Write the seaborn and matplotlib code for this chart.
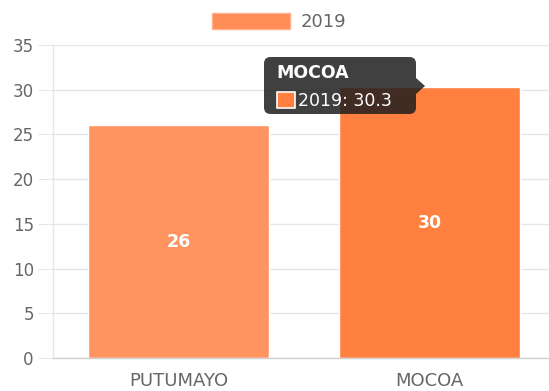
import matplotlib
matplotlib.use("Agg")
import matplotlib.pyplot as plt
from matplotlib.patches import Patch, FancyBboxPatch, Rectangle, Polygon
import seaborn as sns
import pandas as pd

# Data
regions = ["PUTUMAYO", "MOCOA"]
values_2019 = [26.0, 30.3]
series_name = "2019"
y_ticks = [0, 5, 10, 15, 20, 25, 30, 35]

bar_colors = ["#FF9461", "#FF803F"]
legend_color = "#FF8C55"
text_gray = "#666666"
grid_gray = "#E6E6E6"

sns.set_theme(style="white")
plt.rcParams["font.family"] = ["DejaVu Sans"]

W, H = 549, 391
fig = plt.figure(figsize=(W / 100, H / 100), dpi=100)
fig.patch.set_facecolor("white")

# plot area in pixel terms: x 53..555, y 45..358 (top-down)
ax = fig.add_axes([53 / W, (H - 358) / H, 502 / W, 313 / H])
ax.set_facecolor("white")

df = pd.DataFrame({"region": regions, "value": values_2019})
sns.barplot(data=df, x="region", y="value", hue="region", palette=bar_colors,
            width=0.72, legend=False, ax=ax, saturation=1)

ax.set_xlim(-0.5, 1.5)
ax.set_ylim(0, 35)
ax.set_yticks(y_ticks)
ax.set_xlabel("")
ax.set_ylabel("")

ax.yaxis.grid(True, color=grid_gray, linewidth=1)
ax.xaxis.grid(False)
ax.set_axisbelow(True)

for side in ["top", "right"]:
    ax.spines[side].set_visible(False)
ax.spines["left"].set_color(grid_gray)
ax.spines["left"].set_linewidth(1)
ax.spines["bottom"].set_color("#CFCFCF")
ax.spines["bottom"].set_linewidth(1)

ax.tick_params(axis="y", length=10.8, width=0.75, color=grid_gray, pad=3,
               labelsize=12, labelcolor=text_gray, left=True)
ax.tick_params(axis="x", length=0, pad=10, labelsize=13, labelcolor=text_gray)

# value labels in the middle of each bar
for i, v in enumerate(values_2019):
    ax.text(i, v / 2, f"{v:.0f}", ha="center", va="center", color="white",
            fontsize=12.5, fontweight="bold")

# legend
handle = Patch(facecolor=legend_color, edgecolor="#FFB08A", linewidth=1)
fig.legend([handle], [series_name], loc="center",
           bbox_to_anchor=(279 / W, 1 - 22 / H), frameon=False,
           fontsize=13, labelcolor=text_gray, handlelength=4.3,
           handleheight=1.05, handletextpad=0.6, borderpad=0)

# hover tooltip over MOCOA
def px(x, y):
    return (x / W, 1 - y / H)

tip_x0, tip_y0, tip_x1, tip_y1 = 264, 57, 416, 114
box = FancyBboxPatch(px(tip_x0, tip_y1), (tip_x1 - tip_x0) / W, (tip_y1 - tip_y0) / H,
                     boxstyle="round,pad=0,rounding_size=0.012",
                     transform=fig.transFigure, facecolor="#1E1E1E", alpha=0.85,
                     edgecolor="none", zorder=10, mutation_aspect=W / H)
fig.patches.append(box)
caret = Polygon([px(416, 78), px(425, 86), px(416, 94)], closed=True,
                transform=fig.transFigure, facecolor="#1E1E1E", alpha=0.85,
                edgecolor="none", zorder=10)
fig.patches.append(caret)
fig.text(*px(276, 73), regions[1], color="white", fontsize=12.5, fontweight="bold",
         ha="left", va="center", zorder=11)
sq = Rectangle(px(277, 108), 18 / W, 16 / H, transform=fig.transFigure,
               facecolor=bar_colors[1], edgecolor="white", linewidth=1.2, zorder=11)
fig.patches.append(sq)
fig.text(*px(298, 101), f"{series_name}: {values_2019[1]}", color="white",
         fontsize=12.5, ha="left", va="center", zorder=11)

fig.savefig("out.png", dpi=100, facecolor="white")
